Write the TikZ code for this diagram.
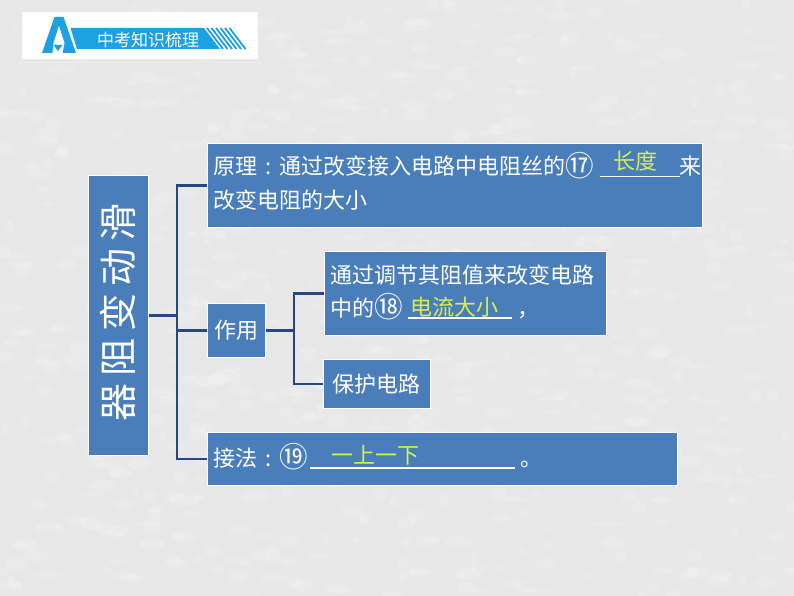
\documentclass[tikz,border=0pt]{standalone}
\usepackage{fontspec}
\setmainfont{Noto Sans CJK SC}
\definecolor{boxblue}{HTML}{4A7EBB}
\definecolor{linec}{HTML}{27477F}
\definecolor{ans}{HTML}{D4F24A}
\definecolor{logo}{HTML}{1DA1E2}
\definecolor{bg}{HTML}{E7E7E7}
\newcommand\fillin[4]{\rlap{\rule[-2.5pt]{#1pt}{1.2pt}}\makebox[#1pt][l]{\hspace*{#2pt}\raisebox{#3pt}{\color{ans}#4}}}
\newcommand\cnum[1]{\raisebox{-1.5pt}{\scalebox{1.3}{#1}}}
\newcommand\colonc{\makebox[1em]{:}}
\tikzset{
  box/.style={draw=white, line width=0.8pt, fill=boxblue, anchor=north west, inner sep=0pt, text=white, font=\fontsize{22}{30}\selectfont},
  txt/.style={text=white, anchor=base west, inner sep=0pt, font=\fontsize{22}{30}\selectfont},
  conn/.style={draw=linec, line width=2.5pt, line join=miter},
}
\begin{document}
\begin{tikzpicture}[x=1pt,y=-1pt]
\useasboundingbox (0,0) rectangle (794,596);
\fill[bg] (0,0) rectangle (794,596);
\pgfmathsetseed{7}
\foreach \i in {1,...,700} {
  \pgfmathsetmacro\xx{rnd*794}
  \pgfmathsetmacro\yy{rnd*596}
  \pgfmathsetmacro\rr{3+rnd*12}
  \pgfmathsetmacro\ss{2+rnd*5}
  \fill[white, opacity=0.16] (\xx,\yy) ellipse [x radius=\rr pt, y radius=\ss pt];
}
% header
\fill[white] (22,12) rectangle (258,59);
\fill[logo] (70.5,28) -- (204,28) -- (220,49) -- (77,49) -- cycle;
\foreach \x in {207,211.5,216,220.5,225,229.5} \draw[logo, line width=1.8pt] (\x,28) -- (\x+16,49);
\fill[logo] (42,53) -- (54.5,17) -- (63.5,17) -- (76,53) -- cycle;
\fill[white] (59,26) -- (64.5,43) -- (62.5,53) -- (52.5,53) -- (53.5,43) -- cycle;
\fill[logo] (53.5,45) -- (62.5,45) -- (58,51) -- cycle;
\node[text=white, inner sep=0pt, font=\fontsize{17}{17}\selectfont] (hdr) at (148,40) {中考知识梳理};
% boxes
\node[box, minimum width=60pt, minimum height=280pt] (tall) at (88,175) {};
\node[box, minimum width=495pt, minimum height=84pt] (yl) at (207,143) {};
\node[box, minimum width=58pt, minimum height=54pt] (zy) at (207,303) {作用};
\node[box, minimum width=282pt, minimum height=84pt] (tj) at (324,251) {};
\node[box, minimum width=107pt, minimum height=49pt] (bh) at (323,359) {保护电路};
\node[box, minimum width=470pt, minimum height=53pt] (jf) at (207,432) {};
% connectors
\coordinate (t1) at (177,0);
\coordinate (t2) at (294,0);
\draw[conn] (yl.west) -- (yl.west -| t1) -- (jf.west -| t1) -- (jf.west);
\draw[conn] (tall.east) -- (tall.east -| t1);
\draw[conn] (zy.west) -- (zy.west -| t1);
\draw[conn] (tj.west) -- (tj.west -| t2) -- (bh.west -| t2) -- (bh.west);
\draw[conn] (zy.east) -- (zy.east -| t2);
% texts
\node[rotate=90, text=white, inner sep=0pt, font=\fontsize{38}{38}\selectfont] (tallt) at (118,312) {器\hspace{7pt}阻\hspace{7pt}变\hspace{7pt}动\hspace{7pt}滑};
\node[txt] (yl1) at (213,175) {原理\colonc 通过改变接入电路中电阻丝的\cnum{⑰}\hspace{6pt}\fillin{80}{14}{5}{长度}来};
\node[txt] (yl2) at (213,208) {改变电阻的大小};
\node[txt] (tj1) at (330,283) {通过调节其阻值来改变电路};
\node[txt] (tj2) at (330,316) {中的\cnum{⑱}\hspace{5pt}\fillin{104}{3}{1}{电流大小}\hspace{6pt}，};
\node[txt] (jf1) at (213,466) {接法\colonc\cnum{⑲}\hspace{2pt}\fillin{205}{22}{3}{一上一下}\hspace{6pt}。};
\end{tikzpicture}
\end{document}
